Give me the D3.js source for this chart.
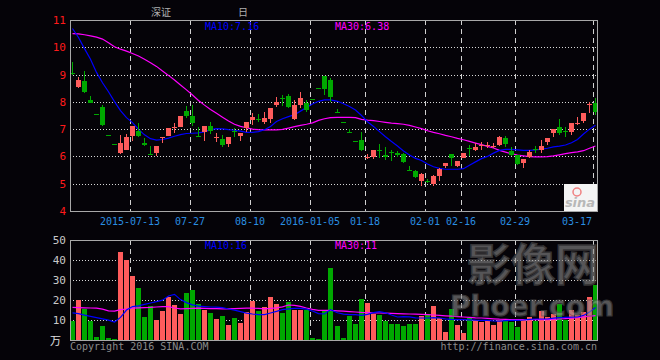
<!DOCTYPE html>
<html><head><meta charset="utf-8">
<script src="https://cdn.jsdelivr.net/npm/d3@7"></script>
<style>
html,body{margin:0;padding:0;background:#050308;}
svg{display:block;}
text{font-family:"DejaVu Sans Mono",monospace;}
</style></head><body>
<svg id="c" width="660" height="360"></svg>
<script>
const dates = ["2015-06-29","2015-06-30","2015-07-01","2015-07-02","2015-07-03","2015-07-06","2015-07-07","2015-07-08","2015-07-09","2015-07-10",
"2015-07-13","2015-07-14","2015-07-15","2015-07-16","2015-07-17","2015-07-20","2015-07-21","2015-07-22","2015-07-23","2015-07-24",
"2015-07-27","2015-07-28","2015-07-29","2015-07-30","2015-07-31","2015-08-03","2015-08-04","2015-08-05","2015-08-06","2015-08-07",
"2015-08-10","2015-08-11","2015-08-12","2015-08-13","2015-08-14","2015-08-17","2015-08-18","2015-08-19","2015-08-20","2015-08-21",
"2016-01-05","2016-01-06","2016-01-07","2016-01-08","2016-01-11","2016-01-12","2016-01-13","2016-01-14","2016-01-15",
"2016-01-18","2016-01-19","2016-01-20","2016-01-21","2016-01-22","2016-01-25","2016-01-26","2016-01-27","2016-01-28","2016-01-29",
"2016-02-01","2016-02-02","2016-02-03","2016-02-04","2016-02-05","2016-02-15",
"2016-02-16","2016-02-17","2016-02-18","2016-02-19","2016-02-22","2016-02-23","2016-02-24","2016-02-25","2016-02-26",
"2016-02-29","2016-03-01","2016-03-02","2016-03-03","2016-03-04","2016-03-07","2016-03-08","2016-03-09","2016-03-10","2016-03-11","2016-03-14","2016-03-15","2016-03-16",
"2016-03-17"];
const openP  = [9.05,8.56,8.76,8.07,7.55,7.80,6.78,6.45,6.12,6.24, 6.75,6.93,6.50,6.10,6.14,6.69,6.75,7.07,7.09,7.67, 7.48,6.76,6.91,7.12,6.68,6.64,6.46,6.95,6.74,7.03,
7.34,7.38,7.27,7.36,7.89,8.15,8.21,7.36,7.89,7.95, 8.10,8.51,8.95,8.80,7.63,7.26,6.89,6.58,6.60, 5.97,5.97,6.22,6.06,6.15,6.12,6.09,5.51,5.47,5.11,
5.09,4.99,5.28,5.65,6.08,5.65, 5.93,6.31,6.24,6.40,6.41,6.37,6.42,6.66,6.21, 6.05,5.75,5.99,6.27,6.24,6.54,6.87,7.09,6.92,6.91,7.19,7.31,7.90, 7.97];
const highP  = [9.47,8.90,9.13,8.21,7.55,7.89,6.78,6.45,6.79,6.82, 7.12,7.21,6.68,6.38,6.38,6.70,7.03,7.21,7.48,7.85, 7.89,7.07,7.12,7.28,6.85,6.79,6.72,7.03,6.87,7.27,
7.60,7.55,7.63,7.78,8.17,8.25,8.29,8.07,8.37,8.07, 8.10,8.51,8.95,8.86,7.72,7.26,6.99,6.58,6.91, 6.09,6.24,6.46,6.36,6.22,6.20,6.11,5.65,5.50,5.40,
5.16,5.31,5.56,5.77,6.08,5.83, 6.11,6.42,6.48,6.52,6.54,6.50,6.75,6.75,6.33, 6.05,5.89,6.24,6.38,6.60,6.66,7.00,7.37,7.07,7.24,7.46,7.60,8.01, 8.13];
const lowP   = [8.98,8.52,8.34,7.95,7.54,7.12,6.77,6.44,6.08,6.22, 6.58,6.72,6.37,6.08,6.02,6.50,6.75,6.87,7.09,7.40, 7.12,6.70,6.58,6.82,6.52,6.33,6.36,6.72,6.58,6.91,
7.15,7.27,7.19,7.21,7.82,7.85,7.76,7.34,7.76,7.64, 8.09,8.50,8.25,8.01,7.62,7.25,6.88,6.57,6.21, 5.89,5.92,5.95,5.88,5.82,5.98,5.77,5.48,5.20,4.93,
5.01,4.93,5.11,5.56,5.65,5.62, 5.93,6.00,6.21,6.24,6.30,6.30,6.38,6.33,6.02, 5.69,5.59,5.95,6.14,6.14,6.42,6.70,6.79,6.72,6.79,7.15,7.24,7.60, 7.52];
const closeP = [9.03,8.80,8.37,7.97,7.54,7.17,6.77,6.44,6.50,6.70, 7.12,6.76,6.42,6.08,6.38,6.70,7.03,7.09,7.48,7.48, 7.24,6.75,7.12,6.94,6.70,6.42,6.70,6.93,6.87,7.27,
7.43,7.37,7.42,7.78,8.01,8.14,7.80,7.89,8.14,7.70, 8.09,8.50,8.46,8.17,7.62,7.25,6.88,6.57,6.24, 5.99,6.24,6.20,5.97,6.14,6.05,5.81,5.50,5.26,5.34,
5.08,5.28,5.53,5.77,5.93,5.83, 6.11,6.30,6.36,6.42,6.43,6.40,6.70,6.46,6.05, 5.72,5.89,6.17,6.26,6.38,6.66,7.00,6.87,6.91,7.21,7.21,7.60,7.92, 7.62];
const volume = [9.3,20.2,15.6,9.3,1.6,7.2,1.2,0.7,44.1,40.2, 32.2,26.2,11.7,17.2,10.2,14.7,21.7,17.7,13.2,23.7, 25.2,18.2,15.2,13.7,10.7,12.2,7.7,11.2,8.7,14.2,
19.7,14.7,16.7,21.7,18.0,13.7,19.2,15.2,15.2,15.2, 1.2,0.7,14.7,36.1,7.2,1.2,12.2,8.2,20.7, 18.7,13.2,12.7,9.7,8.2,8.2,7.2,8.2,8.2,12.2,
13.2,17.2,11.2,4.2,15.7,7.7, 3.7,11.2,10.2,9.2,10.2,7.7,10.2,10.2,9.2, 6.7,10.7,11.7,9.7,14.7,11.7,13.2,18.2,10.2,15.2,12.7,14.2,21.7, 27.7];
const ma10 = [10.69,10.36,9.95,9.56,9.08,8.70,8.37,8.01,7.68,7.42, 7.24,6.99,6.79,6.65,6.60,6.62,6.67,6.74,6.80,6.84, 6.85,6.86,6.90,6.98,7.02,7.01,6.98,6.96,6.93,6.88,
6.88,6.91,6.98,7.10,7.28,7.38,7.46,7.53,7.66,7.79, 7.92,8.02,8.07,8.07,8.02,7.93,7.83,7.70,7.50, 7.27,7.10,6.91,6.72,6.55,6.38,6.20,6.05,5.93,5.85,
5.72,5.62,5.56,5.53,5.53,5.53, 5.55,5.68,5.80,5.92,6.00,6.12,6.22,6.26,6.26, 6.24,6.22,6.22,6.24,6.27,6.30,6.35,6.38,6.42,6.50,6.62,6.82,7.00, 7.14];
const ma30 = [10.50,10.49,10.46,10.42,10.37,10.30,10.17,10.02,9.93,9.86, 9.77,9.68,9.56,9.43,9.30,9.13,8.97,8.80,8.62,8.44, 8.25,8.05,7.88,7.72,7.58,7.44,7.30,7.18,7.10,7.05,
7.00,6.98,6.97,6.97,6.97,6.99,7.04,7.09,7.14,7.18, 7.23,7.32,7.38,7.42,7.43,7.43,7.43,7.42,7.36, 7.33,7.31,7.28,7.25,7.22,7.20,7.18,7.14,7.08,7.02,
6.94,6.88,6.83,6.77,6.72,6.66, 6.61,6.55,6.49,6.43,6.37,6.31,6.22,6.16,6.10, 6.05,6.02,5.99,5.98,5.98,5.99,6.02,6.06,6.10,6.14,6.17,6.21,6.30, 6.38];
const volMa10 = [13.6,13.2,12.4,11.8,11.2,10.6,9.9,9.0,11.3,15.0, 16.7,17.1,17.8,18.5,19.2,19.9,22.0,22.8,20.2,18.7, 17.6,16.9,16.7,16.5,16.4,16.2,15.5,14.9,14.2,13.4,
13.0,12.7,12.7,13.5,14.3,15.2,15.6,15.8,15.8,15.4, 14.5,13.2,13.0,15.2,13.6,12.9,12.7,12.7,12.3, 12.8,13.7,14.2,13.6,12.5,11.5,11.7,11.6,11.1,11.0,
11.0,11.2,11.0,10.6,10.3,10.2, 10.2,10.1,9.9,9.8,9.8,9.5,9.4,9.7,9.8, 9.8,10.0,10.3,10.5,10.5,10.5,10.9,11.2,11.3,11.4,11.5,12.3,14.0, 16.2];
const volMa30 = [16.3,16.2,16.1,16.0,15.9,15.4,14.6,14.4,15.2,15.5, 15.9,16.1,16.2,16.3,16.5,16.7,16.7,16.0,15.6,15.7, 15.8,15.9,15.8,15.7,15.7,15.6,15.6,15.7,15.8,15.9,
15.9,15.8,15.6,15.8,16.1,16.6,17.5,17.3,16.8,16.0, 15.3,14.8,14.8,14.8,14.6,14.4,14.2,14.0,13.8, 13.7,13.6,13.5,13.4,13.3,13.2,13.1,13.0,12.9,12.8,
12.7,12.5,12.3,12.1,11.9,11.7, 11.5,11.3,11.1,11.0,10.8,10.6,10.4,10.3,10.2, 10.2,10.2,10.2,10.2,10.2,10.2,10.3,10.5,10.7,10.9,11.2,11.5,11.9, 12.2];
const tickDates  = ["2015-07-13","2015-07-27","2015-08-10","2016-01-05","2016-01-18","2016-02-01","2016-02-16","2016-02-29","2016-03-17"];
const tickLabels = ["2015-07-13","07-27","08-10","2016-01-05","01-18","02-01","02-16","02-29","03-17"];
const priceTicks = [4,5,6,7,8,9,10,11];
const volTicks = [10,20,30,40,50];
const topLegend = ["MA10:7.16","MA30:6.38"];
const volLegend = ["MA10:16","MA30:11"];

const RED = "#ff5c5c", GREEN = "#00a800", BLUE = "#0000ff", MAG = "#ff00ff";
const svg = d3.select("#c");
const L = 70, R = 597, T1 = 20, B1 = 211, T2 = 240, B2 = 340;

const x = d3.scaleBand().domain(dates).range([L, R + 1]).paddingInner(1/6).paddingOuter(0);
const y1 = d3.scaleLinear().domain([4, 11]).range([B1, T1]);
const y2 = d3.scaleLinear().domain([0, 50]).range([B2, T2]);
const left = d => Math.round(x(d));
const mid = d => Math.round(x(d)) + 2.5;

// dotted horizontal grid
svg.append("g").selectAll("line").data(priceTicks.filter(v => v > 4 && v < 11)).join("line")
  .attr("x1", L).attr("x2", R).attr("y1", d => Math.round(y1(d)) + 0.5).attr("y2", d => Math.round(y1(d)) + 0.5)
  .attr("stroke", "#d8d8d8").attr("stroke-dasharray", "1,2");
svg.append("g").selectAll("line").data(volTicks.filter(v => v < 50)).join("line")
  .attr("x1", L).attr("x2", R).attr("y1", d => Math.round(y2(d)) + 0.5).attr("y2", d => Math.round(y2(d)) + 0.5)
  .attr("stroke", "#d8d8d8").attr("stroke-dasharray", "1,2");

// dashed verticals
[[T1, B1], [T2, B2]].forEach(([a, b]) => {
  svg.append("g").selectAll("line").data(tickDates).join("line")
    .attr("x1", d => left(d) + 0.5).attr("x2", d => left(d) + 0.5).attr("y1", a).attr("y2", b)
    .attr("stroke", "#d0d0d0").attr("stroke-dasharray", "5,4");
});

// legend texts
svg.append("text").attr("x", 205).attr("y", 30).attr("fill", BLUE).attr("font-size", 10).text(topLegend[0]);
svg.append("text").attr("x", 335).attr("y", 30).attr("fill", MAG).attr("font-size", 10).text(topLegend[1]);
svg.append("text").attr("x", 205).attr("y", 249).attr("fill", BLUE).attr("font-size", 10).text(volLegend[0]);
svg.append("text").attr("x", 335).attr("y", 249).attr("fill", MAG).attr("font-size", 10).text(volLegend[1]);

// MA lines (price)
const lineP = arr => d3.line().x((d, i) => mid(dates[i])).y(d => y1(d))(arr);
const lineV = arr => d3.line().x((d, i) => mid(dates[i])).y(d => y2(d))(arr);
svg.append("path").attr("d", lineP(ma30)).attr("fill", "none").attr("stroke", MAG).attr("stroke-width", 1.2);
svg.append("path").attr("d", lineP(ma10)).attr("fill", "none").attr("stroke", BLUE).attr("stroke-width", 1.2);

// candles
const idx = d3.range(dates.length);
const col = i => closeP[i] >= openP[i] ? RED : GREEN;
const cg = svg.append("g").attr("shape-rendering", "crispEdges");
cg.selectAll("line").data(idx).join("line")
  .attr("x1", i => mid(dates[i])).attr("x2", i => mid(dates[i]))
  .attr("y1", i => y1(highP[i])).attr("y2", i => y1(lowP[i]))
  .attr("stroke", col);
cg.selectAll("rect").data(idx).join("rect")
  .attr("x", i => left(dates[i])).attr("width", 5)
  .attr("y", i => y1(Math.max(openP[i], closeP[i])))
  .attr("height", i => Math.max(1, Math.abs(y1(openP[i]) - y1(closeP[i]))))
  .attr("fill", col);

// volume bars
svg.append("g").attr("shape-rendering", "crispEdges").selectAll("rect").data(idx).join("rect")
  .attr("x", i => left(dates[i])).attr("width", 5)
  .attr("y", i => y2(volume[i])).attr("height", i => B2 - y2(volume[i]))
  .attr("fill", col);
svg.append("path").attr("d", lineV(volMa30)).attr("fill", "none").attr("stroke", MAG).attr("stroke-width", 1.2);
svg.append("path").attr("d", lineV(volMa10)).attr("fill", "none").attr("stroke", BLUE).attr("stroke-width", 1.2);

// frames
const fr = svg.append("g").attr("fill", "none").attr("stroke", "#a8a8a8").attr("shape-rendering", "crispEdges");
fr.append("path").attr("d", `M${L+0.5},${T1+0.5}H${R+0.5}V${B1+0.5}H${L+0.5}Z`);
fr.append("path").attr("d", `M${L+0.5},${T2+0.5}H${R+0.5}V${B2+0.5}H${L+0.5}Z`);

// y axis labels
svg.append("g").selectAll("text").data(priceTicks).join("text")
  .attr("x", 66).attr("y", d => y1(d) + 4).attr("text-anchor", "end")
  .attr("fill", "#ff1a1a").attr("font-size", 11).text(d => d);
svg.append("g").selectAll("text").data(volTicks).join("text")
  .attr("x", 66).attr("y", d => y2(d) + 4).attr("text-anchor", "end")
  .attr("fill", "#c8c8c8").attr("font-size", 11).text(d => d);

// x axis labels
svg.append("g").selectAll("text").data(tickDates).join("text")
  .attr("x", (d, i) => {
    const w = tickLabels[i].length * 6;
    return Math.min(left(d), R - 5 - w / 2);
  })
  .attr("y", 225).attr("text-anchor", "middle")
  .attr("fill", "#2a8ee0").attr("font-size", 10).text((d, i) => tickLabels[i]);

// unit, title, copyright
svg.append("text").attr("x", 50).attr("y", 345).attr("fill", "#e0e0e0").attr("font-size", 11)
  .style("font-family", "'Noto Sans CJK SC'").text("万");
svg.append("text").attr("x", 151).attr("y", 16).attr("fill", "#b0b0b0").attr("font-size", 10)
  .style("font-family", "'Noto Sans CJK SC'").text("深证");
svg.append("text").attr("x", 238).attr("y", 16).attr("fill", "#b0b0b0").attr("font-size", 10)
  .style("font-family", "'Noto Sans CJK SC'").text("日");
svg.append("text").attr("x", 70).attr("y", 350).attr("fill", "#8a8a8a").attr("font-size", 10).text("Copyright 2016 SINA.COM");
svg.append("text").attr("x", 597).attr("y", 350).attr("text-anchor", "end").attr("fill", "#8a8a8a").attr("font-size", 10).text("http://finance.sina.com.cn");

// sina logo
svg.append("rect").attr("x", 564).attr("y", 184).attr("width", 33).attr("height", 27).attr("fill", "#f4f4f4");
svg.append("text").attr("x", 580).attr("y", 207).attr("text-anchor", "middle").attr("fill", "#b8b8b8")
  .attr("font-size", 13).attr("font-style", "italic").attr("font-weight", "bold").style("font-family", "'DejaVu Sans'").text("sina");
svg.append("circle").attr("cx", 577).attr("cy", 192).attr("r", 4).attr("fill", "none").attr("stroke", "#f08080").attr("stroke-width", 1.5);

// watermark
const wm = svg.append("g").attr("opacity", 0.6);
wm.append("text").attr("x", 533).attr("y", 281).attr("text-anchor", "middle").attr("font-size", 44)
  .attr("font-weight", "bold").attr("fill", "#8c8c8c").attr("stroke", "#555").attr("stroke-width", 1.5)
  .style("font-family", "'Noto Sans CJK SC'").text("影像网");
wm.append("text").attr("x", 532).attr("y", 316).attr("text-anchor", "middle").attr("font-size", 28)
  .attr("font-weight", "bold").attr("fill", "#8c8c8c").attr("stroke", "#555").attr("stroke-width", 1.2)
  .style("font-family", "'DejaVu Sans'").text("Phoer.com");
</script>
</body></html>
